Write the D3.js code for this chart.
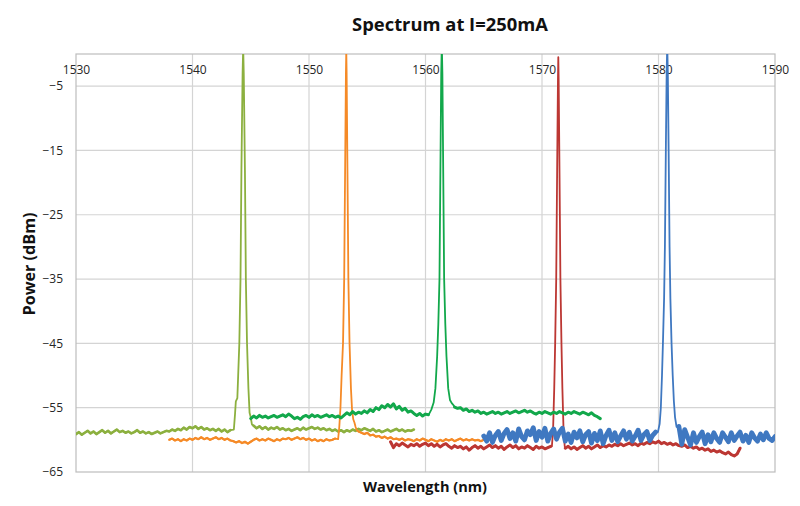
<!DOCTYPE html>
<html><head><meta charset="utf-8">
<script src="https://cdn.jsdelivr.net/npm/d3@7"></script>
<style>body{margin:0;background:#fff}svg{display:block}</style>
</head><body>
<svg id="chart" width="800" height="506"></svg>
<script>
// ---------- data ----------
const chartTitle = "Spectrum at I=250mA";
const xAxisTitle = "Wavelength (nm)";
const yAxisTitle = "Power (dBm)";
const xDomain = [1530, 1590];
const yDomain = [-65, 0];
const xTickValues = [1530, 1540, 1550, 1560, 1570, 1580, 1590];
const yTickValues = [-5, -15, -25, -35, -45, -55, -65];
const sampleStep = 0.25; // nm between baseline samples (null = see peak table)

// olive series
const oliveStart = 1530;
const oliveBase = [
  -59.1,-58.8,-59.2,-58.9,-58.6,-59.0,-58.7,-59.1,
  -58.8,-58.5,-58.9,-58.6,-59.0,-58.7,-58.4,-58.8,
  -58.6,-58.9,-58.7,-59.0,-58.8,-58.5,-58.9,-58.7,
  -59.0,-58.8,-59.1,-58.9,-58.7,-59.0,-58.8,-58.6,
  -58.7,-58.4,-58.6,-58.3,-58.5,-58.1,-58.4,-58.0,
  -58.2,-57.9,-58.3,-58.0,-58.4,-58.2,-58.5,-58.3,
  -58.6,-58.3,-58.7,-58.4,-58.8,-58.5,null,null,
  null,null,null,null,null,-57.8,-58.2,-57.9,
  -58.3,-58.0,-58.4,-58.1,-58.3,-58.0,-58.4,-58.2,
  -58.5,-58.3,-58.6,-58.4,-58.2,-58.5,-58.1,-58.4,
  -58.2,-58.0,-58.3,-58.1,-58.4,-58.2,-58.5,-58.3,
  -58.6,-58.4,-58.7,-58.5,-58.8,-58.5,-58.7,-58.4,
  -58.6,-58.3,-58.5,-58.2,-58.4,-58.6,-58.3,-58.7,
  -58.5,-58.8,-58.6,-58.4,-58.7,-58.5,-58.3,-58.6,
  -58.4,-58.7,-58.5,-58.6,-58.4
];
const olivePeak = [
  [1543.55,-58.4],[1543.65,-56.0],[1543.72,-54.0],[1543.85,-53.5],[1543.92,-50],
  [1544.02,-45],[1544.12,-35],[1544.2,-18],[1544.3,-3],[1544.35,1],[1544.4,-3],
  [1544.5,-18],[1544.58,-35],[1544.68,-45],[1544.8,-52],[1544.9,-55.8],
  [1545.0,-56.5],[1545.1,-57.6]
];

// orange series
const orangeStart = 1538;
const orangeBase = [
  -60.0,-59.8,-60.1,-59.9,-60.2,-59.9,-60.1,-59.8,
  -60.0,-59.7,-59.9,-59.6,-59.9,-59.7,-60.0,-59.8,
  -59.6,-59.9,-59.7,-60.0,-59.8,-60.1,-60.2,-60.4,
  -60.2,-60.5,-60.3,-60.6,-60.3,-60.0,-59.8,-60.1,
  -59.9,-60.1,-59.8,-60.0,-60.2,-59.9,-60.1,-59.8,
  -59.9,-59.7,-60.0,-59.8,-59.6,-59.9,-59.7,-60.0,
  -59.8,-60.1,-59.9,-60.2,-60.0,-60.2,-59.9,-60.1,
  -60.0,-59.8,null,null,null,null,null,null,
  null,-58.7,-58.9,-59.1,-58.9,-59.3,-59.2,-59.5,
  -59.4,-59.7,-59.5,-59.8,-59.6,-59.9,-59.8,-60.0,
  -59.8,-60.1,-59.9,-60.0,-60.2,-59.9,-60.1,-59.8,
  -60.0,-60.2,-59.9,-60.1,-60.3,-60.0,-60.2,-59.9,
  -60.1,-59.9,-60.2,-60.0,-59.8,-60.1,-59.9,-60.1,
  -59.9,-60.1,-60.0,-60.2,-60.0
];
const orangePeak = [
  [1552.5,-59.9],[1552.6,-58],[1552.7,-55],[1552.8,-50],[1552.92,-45],
  [1553.02,-35],[1553.1,-18],[1553.17,-3],[1553.2,0.5],[1553.23,-3],
  [1553.3,-18],[1553.38,-35],[1553.48,-45],[1553.6,-52],[1553.7,-55.5],
  [1553.8,-56.8],[1553.9,-57.3],[1554.0,-58.0],[1554.1,-58.5]
];

// green series
const greenStart = 1545;
const greenBase = [
  -56.7,-56.3,-56.6,-56.2,-56.5,-56.3,-56.6,-56.4,
  -56.2,-56.5,-56.3,-56.1,-56.4,-56.0,-56.3,-56.7,
  -56.5,-56.8,-56.4,-56.2,-56.5,-56.1,-56.4,-56.2,
  -56.5,-56.3,-56.1,-56.4,-56.2,-56.5,-56.3,-56.6,
  -56.2,-55.8,-56.1,-55.6,-56.0,-55.7,-55.9,-55.5,
  -55.8,-55.3,-55.6,-55.0,-55.3,-54.7,-55.0,-54.5,
  -54.9,-54.4,-55.2,-54.8,-55.4,-55.1,-55.7,-55.5,
  -55.9,-56.2,-55.9,-56.3,-56.0,-56.1,null,null,
  null,null,null,null,null,null,-54.9,-55.1,
  -55.0,-55.4,-55.2,-55.6,-55.4,-55.7,-55.5,-55.9,
  -55.7,-56.0,-55.8,-55.6,-55.9,-55.7,-56.0,-55.8,
  -55.6,-55.9,-55.7,-55.5,-55.8,-55.6,-55.4,-55.7,
  -55.5,-55.8,-56.0,-55.7,-55.9,-55.6,-55.8,-56.0,
  -55.7,-55.9,-55.6,-55.8,-56.0,-55.7,-55.9,-55.6,
  -55.8,-56.0,-55.7,-55.9,-56.1,-55.8,-56.2,-56.4,
  -56.7
];
const greenPeak = [
  [1560.3,-56.0],[1560.5,-55.3],[1560.7,-54.2],[1560.85,-52],[1561.0,-47],
  [1561.1,-42],[1561.2,-35],[1561.28,-18],[1561.35,-3],[1561.4,1.5],
  [1561.45,-3],[1561.52,-18],[1561.6,-35],[1561.7,-42],[1561.8,-47],
  [1561.95,-52],[1562.1,-53.8],[1562.25,-54.3],[1562.4,-54.6]
];

// red series
const redStart = 1557;
const redBase = [
  -60.3,-61.2,-60.6,-60.9,-60.5,-60.8,-61.1,-60.7,
  -60.9,-60.6,-61.0,-60.7,-60.5,-60.9,-60.6,-61.0,
  -60.7,-61.1,-60.8,-60.6,-61.0,-61.3,-60.9,-61.2,
  -61.0,-61.4,-61.1,-61.6,-61.2,-60.9,-61.3,-61.0,
  -61.4,-61.1,-60.8,-61.2,-60.9,-61.3,-61.0,-61.5,
  -61.1,-60.8,-61.2,-60.9,-61.4,-61.1,-61.3,-60.9,
  -61.2,-61.5,-61.0,-61.3,-61.1,-61.4,-61.2,-61.0,
  null,null,null,null,-61.3,-61.0,-61.4,-61.1,
  -61.5,-61.2,-60.9,-61.3,-61.0,-61.4,-61.1,-60.8,
  -61.2,-60.9,-61.1,-60.8,-61.0,-60.7,-60.9,-60.6,
  -60.9,-60.7,-60.5,-60.8,-60.6,-60.9,-60.5,-60.7,
  -60.4,-60.6,-60.3,-60.5,-60.2,-60.6,-60.4,-60.7,
  -60.5,-60.8,-60.6,-60.9,-61.0,-60.8,-61.2,-61.0,
  -61.3,-61.1,-61.5,-61.3,-61.6,-61.4,-61.8,-61.6,
  -61.9,-61.7,-62.0,-62.2,-61.9,-62.3,-62.5,-62.2,
  -61.3
];
const redPeak = [
  [1570.85,-61.0],[1570.95,-58.5],[1571.05,-52],[1571.13,-45],[1571.22,-35],
  [1571.3,-18],[1571.37,-4],[1571.4,-0.5],[1571.43,-4],[1571.5,-18],
  [1571.58,-35],[1571.67,-45],[1571.75,-52],[1571.85,-58.5],[1571.95,-61.0]
];

// blue series
const blueStart = 1565;
const blueBase = [
  -59.4,-60.2,-58.9,-60.4,-59.3,-58.7,-60.1,-59.0,
  -58.4,-59.8,-58.9,-60.2,-58.3,-59.5,-60.0,-58.6,
  -59.2,-58.1,-60.1,-58.7,-59.6,-58.2,-60.2,-59.0,
  -58.3,-59.9,-58.8,-58.2,-60.2,-59.1,-60.4,-58.8,
  -59.7,-58.6,-60.3,-59.2,-58.7,-60.5,-59.0,-60.1,
  -58.6,-60.6,-59.3,-58.5,-60.1,-58.9,-60.3,-59.4,
  -58.6,-59.9,-58.8,-60.2,-59.4,-58.5,-60.1,-59.2,
  -58.7,-60.1,-59.3,-58.8,null,null,null,null,
  null,null,null,-57.9,-60.7,-58.4,-59.6,-60.8,
  -58.9,-60.4,-59.5,-58.8,-60.6,-59.2,-60.3,-58.9,
  -59.8,-60.4,-58.9,-59.6,-60.3,-58.9,-60.1,-59.4,
  -58.8,-60.2,-59.3,-60.4,-58.9,-59.7,-60.2,-59.1,
  -60.0,-58.9,-59.8,-60.1,-59.5
];
const bluePeak = [
  [1579.95,-58.8],[1580.1,-57.5],[1580.2,-55],[1580.3,-50],[1580.38,-45],
  [1580.48,-38],[1580.55,-30],[1580.63,-15],[1580.7,-3],[1580.75,1.5],
  [1580.8,-3],[1580.87,-15],[1580.95,-30],[1581.02,-38],[1581.12,-45],
  [1581.22,-50],[1581.32,-54],[1581.42,-56.5],[1581.55,-58]
];

// ---------- drawing ----------
const svg = d3.select("#chart");
const plot = {left: 76, right: 775, top: 54, bottom: 472};
const x = d3.scaleLinear().domain(xDomain).range([plot.left, plot.right]);
const y = d3.scaleLinear().domain(yDomain).range([plot.bottom, plot.top]);
const font = "'Open Sans', 'Liberation Sans', sans-serif";

svg.append("rect").attr("width", 800).attr("height", 506).attr("fill", "#fff");

// gridlines
svg.append("g").selectAll("line").data(xTickValues.slice(1, -1)).join("line")
  .attr("x1", d => x(d)).attr("x2", d => x(d))
  .attr("y1", plot.top).attr("y2", plot.bottom)
  .attr("stroke", "#d4d4d4").attr("stroke-width", 1.2);
svg.append("g").selectAll("line").data(yTickValues.slice(0, -1)).join("line")
  .attr("x1", plot.left).attr("x2", plot.right)
  .attr("y1", d => y(d)).attr("y2", d => y(d))
  .attr("stroke", "#d4d4d4").attr("stroke-width", 1.2);

// frame
svg.append("rect").attr("x", plot.left).attr("y", plot.top)
  .attr("width", plot.right - plot.left).attr("height", plot.bottom - plot.top)
  .attr("fill", "none").attr("stroke", "#bdbdbd").attr("stroke-width", 1.2);

// tick labels (x on top, inside plot)
const xAxis = d3.axisTop(x).tickValues(xTickValues).tickSize(0).tickFormat(d3.format("d"));
const gx = svg.append("g").attr("transform", `translate(0,${plot.top + 23})`).call(xAxis);
gx.select(".domain").remove();
gx.selectAll("text").attr("font-family", font).attr("font-size", 12).attr("fill", "#262626");

const yAxis = d3.axisLeft(y).tickValues(yTickValues).tickSize(0).tickPadding(0).tickFormat(d3.format("d"));
const gy = svg.append("g").attr("transform", `translate(${plot.left - 13},0)`).call(yAxis);
gy.select(".domain").remove();
gy.selectAll("text").attr("font-family", font).attr("font-size", 12).attr("fill", "#262626");

// series
function basePoints(start, base) {
  return base.map((v, i) => [start + i * sampleStep, v]);
}
function buildPoints(start, base, peak) {
  return basePoints(start, base).filter(d => d[1] !== null)
    .concat(peak).sort((a, b) => a[0] - b[0]);
}
const series = [
  {start: redStart, base: redBase, peak: redPeak, color: "#bc3733", w: 3.0},
  {start: oliveStart, base: oliveBase, peak: olivePeak, color: "#8cb03f", w: 2.6},
  {start: orangeStart, base: orangeBase, peak: orangePeak, color: "#f58a27", w: 2.2},
  {start: greenStart, base: greenBase, peak: greenPeak, color: "#12a84b", w: 3.0},
  {start: blueStart, base: blueBase, peak: bluePeak, color: "#3f78c1", w: 4.8}
];
svg.append("clipPath").attr("id", "clip").append("rect")
  .attr("x", plot.left).attr("y", plot.top)
  .attr("width", plot.right - plot.left).attr("height", plot.bottom - plot.top);
const line = d3.line().x(d => x(d[0])).y(d => y(d[1]));
const baseLine = d3.line().defined(d => d[1] !== null).x(d => x(d[0])).y(d => y(d[1]));
const groups = svg.append("g").attr("clip-path", "url(#clip)")
  .selectAll("g").data(series).join("g");
groups.append("path")
  .attr("d", d => line(buildPoints(d.start, d.base, d.peak)))
  .attr("fill", "none").attr("stroke", d => d.color).attr("stroke-width", 1.8)
  .attr("stroke-linejoin", "round");
groups.append("path")
  .attr("d", d => baseLine(basePoints(d.start, d.base)))
  .attr("fill", "none").attr("stroke", d => d.color).attr("stroke-width", d => d.w)
  .attr("stroke-linejoin", "round").attr("stroke-linecap", "round");

// titles
function fitText(sel, target) {
  const len = sel.node().getComputedTextLength();
  const fs = parseFloat(sel.attr("font-size"));
  sel.attr("font-size", fs * target / len);
}
const t = svg.append("text").attr("x", 450).attr("y", 31).attr("text-anchor", "middle")
  .attr("font-family", font).attr("font-weight", "bold").attr("font-size", 16)
  .attr("fill", "#111").text(chartTitle);
fitText(t, 196);
const xt = svg.append("text").attr("x", 425).attr("y", 492).attr("text-anchor", "middle")
  .attr("font-family", font).attr("font-weight", "bold").attr("font-size", 14)
  .attr("fill", "#111").text(xAxisTitle);
fitText(xt, 124);
const yt = svg.append("text").attr("transform", "translate(35,264) rotate(-90)")
  .attr("text-anchor", "middle")
  .attr("font-family", font).attr("font-weight", "bold").attr("font-size", 14)
  .attr("fill", "#111").text(yAxisTitle);
fitText(yt, 103);
</script>
</body></html>
